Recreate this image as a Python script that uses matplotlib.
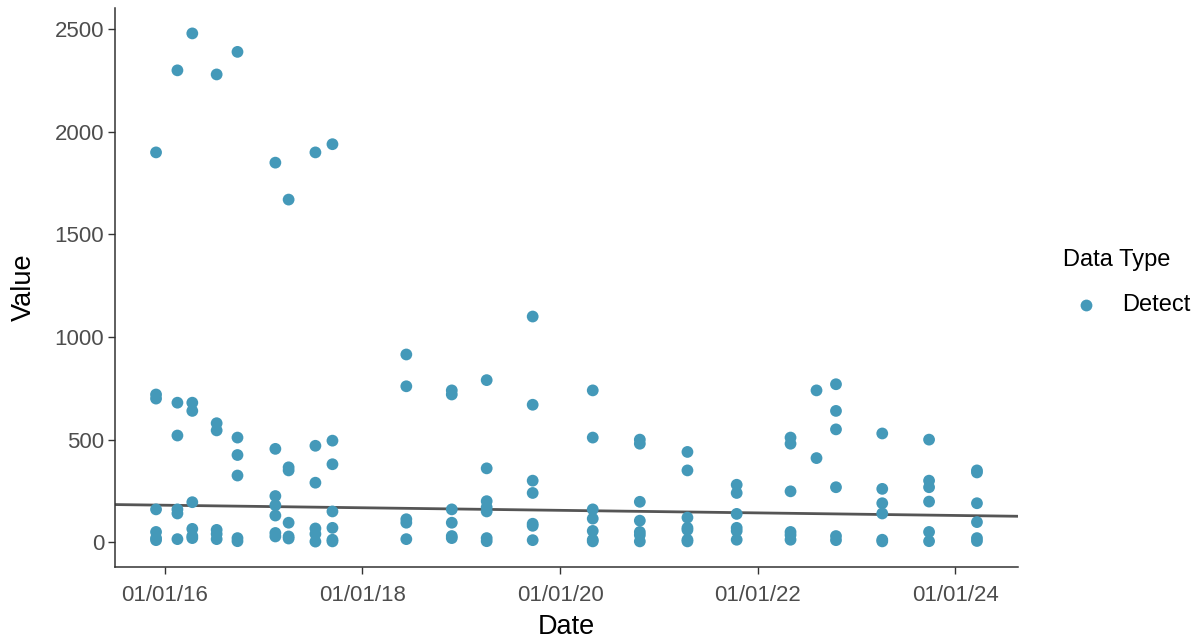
import numpy as np
import pandas as pd
import matplotlib
matplotlib.use("Agg")
import matplotlib.pyplot as plt
import matplotlib.dates as mdates
from matplotlib.lines import Line2D

plt.rcParams['font.family'] = ['Liberation Sans', 'DejaVu Sans']

# sampling dates and the values observed on each date
sample_dates = [
    "2015-11-30", "2016-02-17", "2016-04-12", "2016-07-11", "2016-09-26",
    "2017-02-13", "2017-04-03", "2017-07-11", "2017-09-12",
    "2018-06-12", "2018-11-27", "2019-04-05", "2019-09-22", "2020-05-01",
    "2020-10-22", "2021-04-16", "2021-10-15", "2022-05-02", "2022-08-06",
    "2022-10-17", "2023-04-06", "2023-09-26", "2024-03-21",
]
sample_values = [
    [1900, 720, 700, 160, 50, 20, 10],
    [2300, 680, 520, 160, 140, 15],
    [2480, 680, 640, 195, 65, 30, 20],
    [2280, 580, 545, 60, 40, 15],
    [2390, 510, 425, 325, 20, 5],
    [1850, 455, 225, 180, 130, 45, 28],
    [1670, 365, 350, 95, 28, 18],
    [1900, 470, 290, 67, 40, 3],
    [1940, 495, 380, 150, 70, 12, 4],
    [915, 760, 112, 95, 15],
    [740, 720, 160, 95, 30, 20],
    [790, 360, 200, 170, 150, 20, 5],
    [1100, 670, 300, 240, 90, 80, 10],
    [740, 510, 160, 115, 55, 12, 4],
    [500, 480, 197, 105, 50, 35, 4],
    [440, 350, 120, 70, 60, 12, 4],
    [280, 240, 138, 70, 55, 12],
    [510, 480, 248, 50, 35, 12],
    [740, 410],
    [770, 640, 550, 268, 30, 10],
    [530, 260, 190, 140, 12, 4],
    [500, 300, 268, 198, 50, 5],
    [350, 340, 190, 98, 20, 6],
]

series_name = "Detect"
legend_title = "Data Type"
x_label = "Date"
y_label = "Value"
y_ticks = [0, 500, 1000, 1500, 2000, 2500]
x_tick_years = [2016, 2018, 2020, 2022, 2024]

point_color = "#4499B9"
line_color = "#555555"
text_grey = "#4D4D4D"

dates = []
values = []
for d, vals in zip(sample_dates, sample_values):
    for v in vals:
        dates.append(pd.Timestamp(d))
        values.append(v)
dates = pd.to_datetime(dates)
values = np.array(values, dtype=float)
xnum = mdates.date2num(dates)

W, H = 1198, 640
fig = plt.figure(figsize=(W / 100, H / 100), dpi=100)
ax = fig.add_axes([115 / W, 1 - 567 / H, (1018 - 115) / W, (567 - 8) / H])

ax.scatter(dates, values, s=72, color=point_color, edgecolors='none', zorder=3)

# Sen's slope trend line (Conover intercept)
i, j = np.triu_indices(len(xnum), k=1)
dx = xnum[j] - xnum[i]
ok = dx != 0
slope = np.median((values[j] - values[i])[ok] / dx[ok])
intercept = np.median(values) - slope * np.median(xnum)
xmin, xmax = xnum.min(), xnum.max()
pad = 0.05 * (xmax - xmin)
xl = np.array([xmin - pad, xmax + pad])
ax.plot(xl, intercept + slope * xl, color=line_color, lw=2, zorder=2)

ax.set_xlim(xmin - pad, xmax + pad)
vmin, vmax = values.min(), values.max()
ypad = 0.05 * (vmax - vmin)
ax.set_ylim(vmin - ypad, vmax + ypad)

ax.set_yticks(y_ticks)
ax.set_xticks([mdates.date2num(pd.Timestamp(f"{y}-01-01")) for y in x_tick_years])
ax.xaxis.set_major_formatter(mdates.DateFormatter("%m/%d/%y"))

for s in ['top', 'right']:
    ax.spines[s].set_visible(False)
for s in ['left', 'bottom']:
    ax.spines[s].set_color('#333333')
    ax.spines[s].set_linewidth(1.1)
ax.tick_params(axis='both', colors='#333333', length=4.8, width=1.0,
               labelsize=16, labelcolor=text_grey)
ax.tick_params(axis='y', pad=3)
ax.tick_params(axis='x', pad=8)

ax.set_xlabel(x_label, fontsize=19.5, color='black', labelpad=6)
ax.set_ylabel(y_label, fontsize=19.5, color='black', labelpad=13)

# legend (placed in figure pixels)
fig.text(1063 / W, 1 - 260 / H, legend_title, fontsize=17, va='center', ha='left')
fig.add_artist(Line2D([1086 / W], [1 - 305 / H], marker='o', markersize=8.5,
                      color=point_color, markeredgewidth=0, linestyle='none',
                      transform=fig.transFigure))
fig.text(1122 / W, 1 - 305 / H, series_name, fontsize=17, va='center', ha='left')

fig.savefig("out.png", dpi=100)
